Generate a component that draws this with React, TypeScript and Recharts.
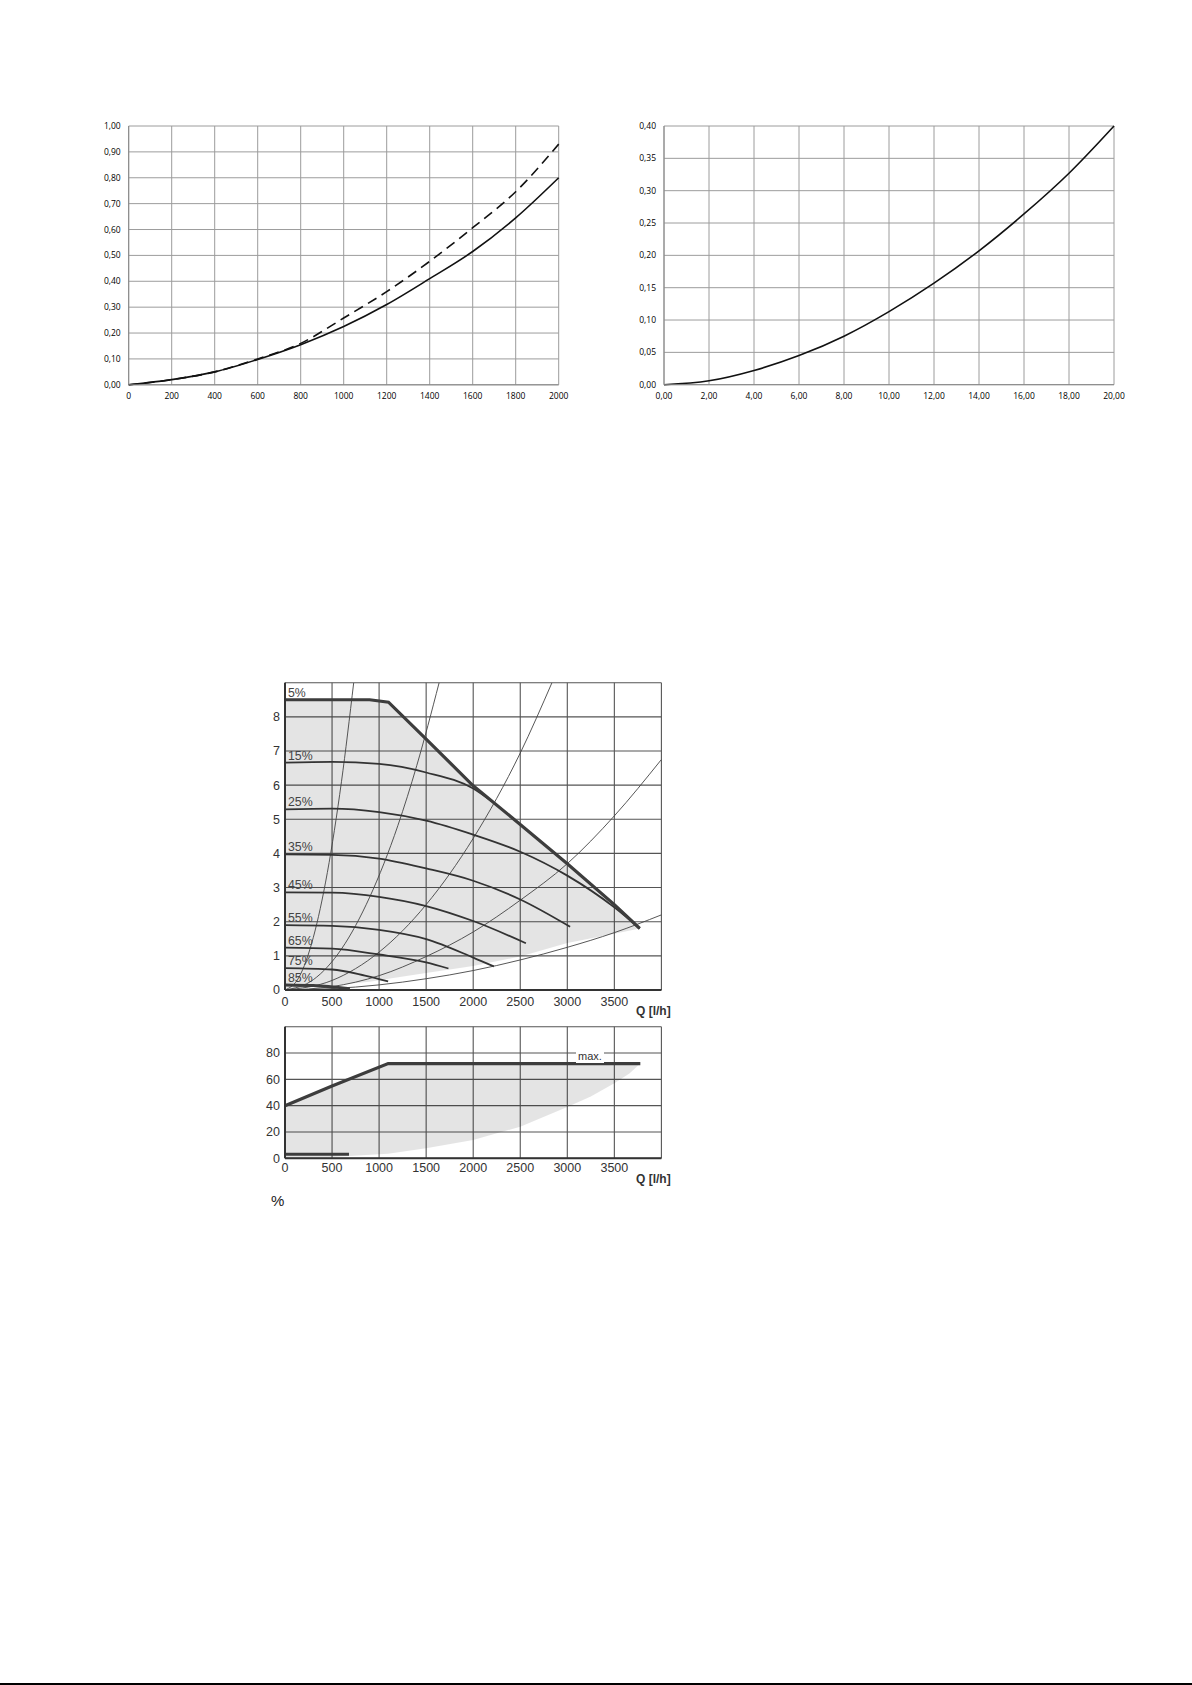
import React from 'react'
import { LineChart, ComposedChart, Line, Area, XAxis, YAxis, CartesianGrid, LabelList } from 'recharts'

// top left: pressure loss against flow
const flowTicks = [0, 200, 400, 600, 800, 1000, 1200, 1400, 1600, 1800, 2000]
const lossTicks = [0, 0.1, 0.2, 0.3, 0.4, 0.5, 0.6, 0.7, 0.8, 0.9, 1]
const lossSolid = [0, 0.02, 0.05, 0.098, 0.155, 0.225, 0.31, 0.41, 0.515, 0.645, 0.8]
const lossDashed = [0, 0.02, 0.05, 0.1, 0.16, 0.258, 0.36, 0.477, 0.607, 0.746, 0.93]

// top right
const kvTicks = [0, 2, 4, 6, 8, 10, 12, 14, 16, 18, 20]
const kvLossTicks = [0, 0.05, 0.1, 0.15, 0.2, 0.25, 0.3, 0.35, 0.4]
const kvLoss = [0, 0.006, 0.022, 0.045, 0.075, 0.113, 0.157, 0.207, 0.264, 0.327, 0.4]

// pump head chart
const qTicks = [0, 500, 1000, 1500, 2000, 2500, 3000, 3500, 4000]
const headTicks = [0, 1, 2, 3, 4, 5, 6, 7, 8, 9]
const maxQ = [0, 900, 1100, 1500, 2000, 2500, 3000, 3500, 3770]
const maxH = [8.5, 8.5, 8.43, 7.35, 5.98, 4.85, 3.7, 2.5, 1.8]
const floorH = [0, 0.24, 0.33, 0.5, 0.7, 0.98, 1.38, 1.65, 1.8]

const s15Q = [0, 500, 1000, 1500, 2000, 2200]
const s15H = [6.66, 6.68, 6.62, 6.37, 5.9, 5.52]
const s25Q = [0, 500, 1000, 1500, 2000, 2500, 3000, 3500, 3770]
const s25H = [5.29, 5.31, 5.21, 4.96, 4.55, 4.05, 3.35, 2.42, 1.8]
const s35Q = [0, 500, 1000, 1500, 2000, 2500, 3030]
const s35H = [3.97, 3.96, 3.85, 3.56, 3.2, 2.65, 1.85]
const s45Q = [0, 500, 1000, 1500, 2000, 2560]
const s45H = [2.86, 2.85, 2.73, 2.46, 2.02, 1.37]
const s55Q = [0, 500, 1000, 1500, 2000, 2220]
const s55H = [1.9, 1.88, 1.76, 1.49, 0.95, 0.69]
const s65Q = [0, 500, 1000, 1500, 1737]
const s65H = [1.24, 1.21, 1.04, 0.81, 0.63]
const s75Q = [0, 500, 850, 1096]
const s75H = [0.64, 0.6, 0.42, 0.25]
const s85Q = [0, 300, 690]
const s85H = [0.15, 0.13, 0.04]

// system curves
const sysAQ = [0, 150, 300, 450, 600, 730]
const sysAH = [0, 0.38, 1.53, 3.44, 6.1, 9]
const sysBQ = [0, 300, 600, 900, 1200, 1400, 1638]
const sysBH = [0, 0.3, 1.2, 2.72, 4.82, 6.57, 9]
const sysCQ = [0, 500, 1000, 1500, 2000, 2500, 2837]
const sysCH = [0, 0.28, 1.11, 2.5, 4.44, 6.94, 9]
const sysDQ = [0, 500, 1000, 1500, 2000, 2500, 3000, 3500, 4000]
const sysDH = [0, 0.1, 0.42, 0.98, 1.7, 2.63, 3.7, 5.1, 6.75]
const sysEQ = [0, 500, 1000, 1500, 2000, 2500, 3000, 3500, 4000]
const sysEH = [0, 0.04, 0.15, 0.33, 0.57, 0.88, 1.25, 1.68, 2.2]

// power chart
const powTicks = [0, 20, 40, 60, 80, 100]
const powQ = [0, 500, 1096, 1500, 2000, 2500, 3000, 3250, 3500, 3660, 3776]
const powMax = [40, 55, 72, 72, 72, 72, 72, 72, 72, 72, 72]
const powFloor = [0, 1, 3.5, 7.6, 14, 24, 39, 47, 57, 64.5, 72]
const powMinQ = [0, 680]
const powMinV = [3, 3]

const pts = (q: number[], h: number[]) => q.map((x, i) => ({ q: x, h: h[i] }))
const band = (q: number[], lo: number[], hi: number[]) => q.map((x, i) => ({ q: x, band: [lo[i], hi[i]] }))
const comma = (v: number) => v.toFixed(2).replace('.', ',')

const speedCurves = [
  { label: '15%', q: s15Q, h: s15H },
  { label: '25%', q: s25Q, h: s25H },
  { label: '35%', q: s35Q, h: s35H },
  { label: '45%', q: s45Q, h: s45H },
  { label: '55%', q: s55Q, h: s55H },
  { label: '65%', q: s65Q, h: s65H },
  { label: '75%', q: s75Q, h: s75H },
]
const systemCurves = [
  pts(sysAQ, sysAH),
  pts(sysBQ, sysBH),
  pts(sysCQ, sysCH),
  pts(sysDQ, sysDH),
  pts(sysEQ, sysEH),
]

const smallFont = { fontSize: 8.5, fill: '#000', fontFamily: 'Open Sans' }
const pumpFont = { fontSize: 12.5, fill: '#333', fontFamily: 'Liberation Sans' }

const pctLabel = (text: string) => (props: any) => {
  if (props.index !== 0) return null
  const vb = props.viewBox || {}
  const x = props.x ?? vb.x
  const y = props.y ?? vb.y
  return (
    <text x={x + 3} y={y - 3} fontSize={12.3} fill="#444" fontFamily="Liberation Sans">
      {text}
    </text>
  )
}

function LossChart() {
  const rows = flowTicks.map((q, i) => ({ q, solid: lossSolid[i], dashed: lossDashed[i] }))
  return (
    <LineChart width={500} height={300} data={rows} margin={{ top: 16, right: 21.3, bottom: 5.2, left: 0 }}>
      <CartesianGrid stroke="#9c9c9c" />
      <XAxis type="number" dataKey="q" domain={[0, 2000]} ticks={flowTicks} interval={0} tickLine={false}
        axisLine={{ stroke: '#888' }} height={20} tick={smallFont} />
      <YAxis type="number" domain={[0, 1]} ticks={lossTicks} interval={0} tickLine={false}
        axisLine={{ stroke: '#888' }} width={48.7} tick={smallFont} tickFormatter={comma} />
      <Line dataKey="solid" type="monotone" stroke="#111" strokeWidth={1.6} dot={false} isAnimationActive={false} />
      <Line dataKey="dashed" type="monotone" stroke="#111" strokeWidth={1.6} strokeDasharray="10 6" dot={false} isAnimationActive={false} />
    </LineChart>
  )
}

function KvChart() {
  const rows = kvTicks.map((q, i) => ({ q, h: kvLoss[i] }))
  return (
    <LineChart width={530} height={300} data={rows} margin={{ top: 16, right: 26, bottom: 5.3, left: 0 }}>
      <CartesianGrid stroke="#9c9c9c" />
      <XAxis type="number" dataKey="q" domain={[0, 20]} ticks={kvTicks} interval={0} tickLine={false}
        axisLine={{ stroke: '#888' }} height={20} tick={smallFont} tickFormatter={comma} />
      <YAxis type="number" domain={[0, 0.4]} ticks={kvLossTicks} interval={0} tickLine={false}
        axisLine={{ stroke: '#888' }} width={54} tick={smallFont} tickFormatter={comma} />
      <Line dataKey="h" type="monotone" stroke="#111" strokeWidth={1.6} dot={false} isAnimationActive={false} />
    </LineChart>
  )
}

function HeadChart() {
  return (
    <ComposedChart width={460} height={360} margin={{ top: 22.7, right: 38.6, bottom: 6, left: 0 }}>
      <CartesianGrid stroke="#555" strokeWidth={1.1} />
      <XAxis type="number" dataKey="q" domain={[0, 4000]} ticks={qTicks} interval={0} tickLine={false} tickSize={0}
        tickMargin={7} axisLine={{ stroke: '#333', strokeWidth: 2 }} height={24} tick={pumpFont}
        tickFormatter={(v: number) => (v === 4000 ? '' : String(v))} allowDataOverflow />
      <YAxis type="number" domain={[0, 9]} ticks={headTicks} interval={0} tickLine={false} tickSize={0}
        tickMargin={5} axisLine={{ stroke: '#333', strokeWidth: 2 }} width={45} tick={pumpFont}
        tickFormatter={(v: number) => (v === 9 ? '' : String(v))} allowDataOverflow />
      <Area data={band(maxQ, floorH, maxH)} dataKey="band" type="linear" stroke="none" fill="#000"
        fillOpacity={0.105} isAnimationActive={false} />
      {systemCurves.map((c, i) => (
        <Line key={`sys${i}`} data={c} dataKey="h" type="monotone" stroke="#444" strokeWidth={0.9}
          dot={false} isAnimationActive={false} />
      ))}
      {speedCurves.map((c) => (
        <Line key={c.label} data={pts(c.q, c.h)} dataKey="h" type="monotone" stroke="#333" strokeWidth={1.8}
          dot={false} isAnimationActive={false}>
          <LabelList dataKey="h" content={pctLabel(c.label)} />
        </Line>
      ))}
      <Line data={pts(s85Q, s85H)} dataKey="h" type="monotone" stroke="#3d3d3d" strokeWidth={3} dot={false}
        isAnimationActive={false}>
        <LabelList dataKey="h" content={pctLabel('85%')} />
      </Line>
      <Line data={pts(maxQ, maxH)} dataKey="h" type="linear" stroke="#3d3d3d" strokeWidth={3.2} dot={false}
        isAnimationActive={false}>
        <LabelList dataKey="h" content={pctLabel('5%')} />
      </Line>
    </ComposedChart>
  )
}

function PowerChart() {
  return (
    <ComposedChart width={460} height={180} margin={{ top: 16.7, right: 38.6, bottom: 7.7, left: 0 }}>
      <CartesianGrid stroke="#555" strokeWidth={1.1} />
      <XAxis type="number" dataKey="q" domain={[0, 4000]} ticks={qTicks} interval={0} tickLine={false} tickSize={0}
        tickMargin={5} axisLine={{ stroke: '#333', strokeWidth: 2 }} height={24} tick={pumpFont}
        tickFormatter={(v: number) => (v === 4000 ? '' : String(v))} />
      <YAxis type="number" domain={[0, 100]} ticks={powTicks} interval={0} tickLine={false} tickSize={0}
        tickMargin={5} axisLine={{ stroke: '#333', strokeWidth: 2 }} width={45} tick={pumpFont}
        tickFormatter={(v: number) => (v === 100 ? '' : String(v))} />
      <Area data={band(powQ, powFloor, powMax)} dataKey="band" type="linear" stroke="none" fill="#000"
        fillOpacity={0.105} isAnimationActive={false} />
      <Line data={pts(powQ, powMax)} dataKey="h" type="linear" stroke="#3d3d3d" strokeWidth={3.2} dot={false}
        isAnimationActive={false} />
      <Line data={pts(powMinQ, powMinV)} dataKey="h" type="linear" stroke="#3d3d3d" strokeWidth={3} dot={false}
        isAnimationActive={false} />
    </ComposedChart>
  )
}

const abs = (left: number, top: number): React.CSSProperties => ({ position: 'absolute', left, top })
const unitStyle: React.CSSProperties = {
  fontFamily: 'Liberation Sans', fontWeight: 'bold', fontSize: 12, color: '#333', lineHeight: '14px', whiteSpace: 'nowrap',
}

export default function App() {
  return (
    <div style={{ position: 'absolute', left: 0, top: 0, width: 1192, height: 1685, background: '#fff', overflow: 'hidden' }}>
      <div style={abs(80, 110)}><LossChart /></div>
      <div style={abs(610, 110)}><KvChart /></div>
      <div style={abs(240, 660)}><HeadChart /></div>
      <div style={abs(240, 1010)}><PowerChart /></div>
      <div style={{ ...abs(636, 1004), ...unitStyle }}>Q [l/h]</div>
      <div style={{ ...abs(636, 1172), ...unitStyle }}>Q [l/h]</div>
      <div style={{ ...abs(576, 1050), fontFamily: 'Liberation Sans', fontSize: 11, color: '#333', lineHeight: '13px', background: '#fff', padding: '0 2px' }}>max.</div>
      <div style={{ ...abs(271, 1192), fontFamily: 'Liberation Sans', fontSize: 15, color: '#222', lineHeight: '17px' }}>%</div>
      <div style={{ position: 'absolute', left: 0, top: 1683, width: 1192, height: 2, background: '#000' }} />
    </div>
  )
}
